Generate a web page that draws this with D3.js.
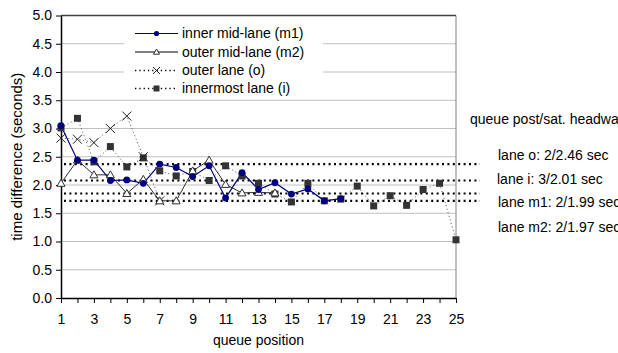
<!DOCTYPE html>
<html><head><meta charset="utf-8">
<script src="https://cdn.jsdelivr.net/npm/d3@7"></script>
<style>
body{margin:0;background:#fff;}
svg{display:block;font-family:"Liberation Sans",Arial,sans-serif;}
</style></head>
<body><svg id="c" width="618" height="353"></svg>
<script>
// ---- data ----
const positions = d3.range(1, 26);
const m1 = [3.05, 2.44, 2.44, 2.08, 2.09, 2.03, 2.37, 2.31, 2.15, 2.34, 1.77, 2.22, 1.92, 2.04, 1.84, 1.93, 1.72, 1.76];
const m2 = [2.03, 2.44, 2.18, 2.18, 1.85, 2.10, 1.72, 1.72, 2.25, 2.44, 2.01, 1.86, 1.87, 1.86];
const laneO = [2.83, 2.81, 2.75, 3.00, 3.22, 2.50, 1.72];
const laneI = [3.01, 3.18, 2.41, 2.68, 2.32, 2.48, 2.25, 2.16, 2.24, 2.08, 2.34, 2.16, 2.03, 1.84, 1.70, 2.03, 1.72, 1.75, 1.98, 1.63, 1.81, 1.64, 1.92, 2.03, 1.03];
const refLevels = [2.37, 2.08, 1.85, 1.72];
const yTicks = [0, 0.5, 1, 1.5, 2, 2.5, 3, 3.5, 4, 4.5, 5];
const legendLabels = ["inner mid-lane (m1)", "outer mid-lane (m2)", "outer lane (o)", "innermost lane (i)"];
const noteTitle = "queue post/sat. headway";
const notes = ["lane o: 2/2.46 sec", "lane i: 3/2.01 sec", "lane m1: 2/1.99 sec", "lane m2: 2/1.97 sec"];
const xTitle = "queue position";
const yTitle = "time difference (seconds)";

// ---- layout ----
const svg = d3.select("#c");
const L = 61, R = 456, T = 15.5, B = 298;
const x = d3.scaleLinear().domain([1, 25]).range([L, R]);
const y = d3.scaleLinear().domain([0, 5]).range([B, T]);
const fs = 14;

// gridlines
svg.append("g").selectAll("line").data(yTicks.filter(v => v > 0 && v < 5)).join("line")
  .attr("x1", L).attr("x2", R).attr("y1", d => y(d)).attr("y2", d => y(d))
  .attr("stroke", "#c0c0c0").attr("stroke-width", 1);

// plot border top/right
svg.append("line").attr("x1", L).attr("x2", R).attr("y1", y(5)).attr("y2", y(5)).attr("stroke", "#404040").attr("stroke-width", 1.5);
svg.append("line").attr("x1", R).attr("x2", R).attr("y1", y(5)).attr("y2", B).attr("stroke", "#808080").attr("stroke-width", 1);

// legend background
svg.append("rect").attr("x", 124).attr("y", 17).attr("width", 199).attr("height", 82).attr("fill", "#fff");

// reference dotted levels
svg.append("g").selectAll("line").data(refLevels).join("line")
  .attr("x1", L + 3).attr("x2", 480).attr("y1", d => y(d)).attr("y2", d => y(d))
  .attr("stroke", "#000").attr("stroke-width", 2.2).attr("stroke-dasharray", "2 3.4");

// axes
const ya = d3.axisLeft(y).tickValues(yTicks).tickFormat(d3.format(".1f")).tickSize(5).tickSizeOuter(0).tickPadding(4);
const gy = svg.append("g").attr("transform", `translate(${L},0)`).call(ya);
const xa = d3.axisBottom(x).tickValues(positions).tickFormat(d => d % 2 ? d : "").tickSize(5).tickSizeOuter(0).tickPadding(11);
const gx = svg.append("g").attr("transform", `translate(0,${B})`).call(xa);
[gy, gx].forEach(g => {
  g.selectAll(".domain").attr("stroke", "#000").attr("stroke-width", 1.5);
  g.selectAll(".tick line").attr("stroke", "#000");
  g.selectAll("text").attr("font-size", fs).attr("fill", "#000").attr("font-family", "Liberation Sans, Arial, sans-serif");
});

const idx = (arr) => arr.map((v, i) => [i + 1, v]);
const line = d3.line().x(d => x(d[0])).y(d => y(d[1]));

// series lines
svg.append("path").datum(idx(laneI)).attr("d", line).attr("fill", "none").attr("stroke", "#404040").attr("stroke-width", 0.8).attr("stroke-dasharray", "1.2 2.5");
svg.append("path").datum(idx(laneO)).attr("d", line).attr("fill", "none").attr("stroke", "#404040").attr("stroke-width", 0.8).attr("stroke-dasharray", "1.2 2.5");
svg.append("path").datum(idx(m2)).attr("d", line).attr("fill", "none").attr("stroke", "#303030").attr("stroke-width", 1);
svg.append("path").datum(idx(m1)).attr("d", line).attr("fill", "none").attr("stroke", "#000080").attr("stroke-width", 1.2);

// markers
function square(g, cx, cy, s) { g.append("rect").attr("x", cx - s / 2).attr("y", cy - s / 2).attr("width", s).attr("height", s).attr("fill", "#333"); }
function cross(g, cx, cy, s) { g.append("path").attr("d", `M${cx - s},${cy - s}L${cx + s},${cy + s}M${cx - s},${cy + s}L${cx + s},${cy - s}`).attr("stroke", "#222").attr("stroke-width", 1).attr("fill", "none"); }
function tri(g, cx, cy, s) { g.append("path").attr("d", `M${cx},${cy - s}L${cx + s},${cy + s * 0.75}L${cx - s},${cy + s * 0.75}Z`).attr("fill", "#fff").attr("stroke", "#303030").attr("stroke-width", 1); }
function dot(g, cx, cy, r) { g.append("circle").attr("cx", cx).attr("cy", cy).attr("r", r).attr("fill", "#000080"); }

const gm = svg.append("g");
idx(laneI).forEach(d => square(gm, x(d[0]), y(d[1]), 7));
idx(laneO).forEach(d => cross(gm, x(d[0]), y(d[1]), 4.5));
idx(m2).forEach(d => tri(gm, x(d[0]), y(d[1]), 4));
idx(m1).forEach(d => dot(gm, x(d[0]), y(d[1]), 3.4));

// legend
const lg = svg.append("g");
const rows = [33.5, 52, 70.5, 88.5];
legendLabels.forEach((t, i) => {
  const yy = rows[i];
  const ln = lg.append("line").attr("x1", 135).attr("x2", 178).attr("y1", yy).attr("y2", yy);
  if (i === 0) ln.attr("stroke", "#000080").attr("stroke-width", 1.2);
  else if (i === 1) ln.attr("stroke", "#000").attr("stroke-width", 1);
  else ln.attr("stroke", "#000").attr("stroke-width", 1.3).attr("stroke-dasharray", "1.3 3");
  if (i === 0) dot(lg, 156.5, yy, 2.6);
  if (i === 1) tri(lg, 156.5, yy, 3);
  if (i === 2) cross(lg, 156.5, yy, 3.5);
  if (i === 3) { lg.append("rect").attr("x", 153.5).attr("y", yy - 3).attr("width", 6).attr("height", 6).attr("fill", "#333"); }
  lg.append("text").attr("x", 182).attr("y", yy).attr("dy", "0.35em").attr("font-size", fs).text(t);
});

// notes
svg.append("text").attr("x", 470).attr("y", 119).attr("dy", "0.35em").attr("font-size", fs).text(noteTitle);
const nx = [498, 497, 498, 498], ny = [155, 179, 202, 227];
notes.forEach((t, i) => svg.append("text").attr("x", nx[i]).attr("y", ny[i]).attr("dy", "0.35em").attr("font-size", fs).text(t));

// axis titles
svg.append("text").attr("x", (L + R) / 2).attr("y", 340).attr("dy", "0.35em").attr("text-anchor", "middle").attr("font-size", fs).text(xTitle);
svg.append("text").attr("transform", `translate(17,${(T + B) / 2}) rotate(-90)`).attr("dy", "0.35em").attr("text-anchor", "middle").attr("font-size", 15).text(yTitle);
</script></body></html>
